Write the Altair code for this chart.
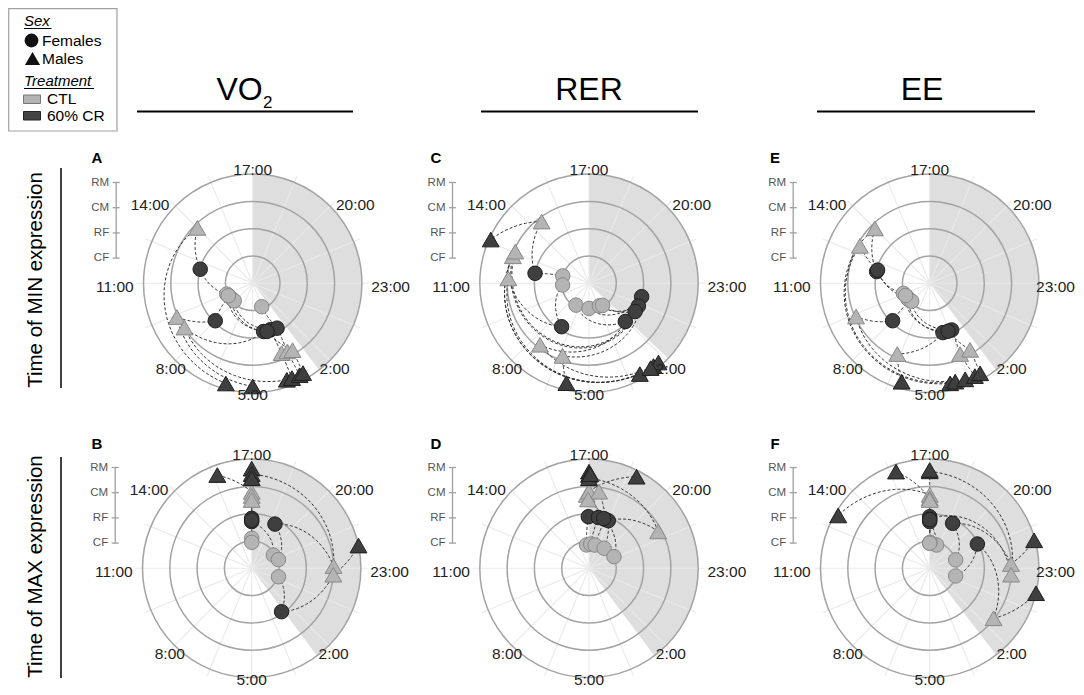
import altair as alt
import pandas as pd

FONT = "Liberation Sans"
U = 27.3  # pixels per ring unit

GROUPS = ["CF", "RF", "CM", "RM"]
SEX = {"CF": "F", "RF": "F", "CM": "M", "RM": "M"}
TREAT = {"CF": "CTL", "RF": "CR", "CM": "CTL", "RM": "CR"}
HOUR_LABELS = ["17:00", "20:00", "23:00", "2:00", "5:00", "8:00", "11:00", "14:00"]

# ---- data: clock time (h) and ring radius per group (CF, RF, CM, RM) per item ----
A_time = [[9.5, 9.0, 8.6, 8.1, 3.6, 9.2],
          [12.0, 8.0, 4.15, 3.6, 3.1, 3.9],
          [14.0, 9.4, 8.8, 3.5, 3.2, 2.95],
          [6.0, 5.0, 3.7, 3.5, 3.2, 3.05]]
A_rad = [[1.03, 0.98, 0.95, 0.93, 0.92, 1.0],
         [1.99, 1.94, 1.81, 1.82, 1.87, 1.84],
         [2.87, 3.04, 2.98, 2.77, 2.8, 2.85],
         [3.8, 3.78, 3.75, 3.76, 3.78, 3.77]]

B_time = [[17.0, 20.9, 21.8, 0.17, 17.0],
          [17.0, 17.0, 18.85, 2.7, 17.0],
          [17.0, 17.0, 22.9, 23.3, 17.0],
          [15.65, 17.0, 17.0, 22.2, 17.0]]
B_rad = [[1.1, 0.93, 1.03, 1.03, 0.95],
         [1.83, 1.71, 1.83, 1.93, 1.76],
         [2.8, 2.65, 3.0, 3.0, 2.5],
         [3.64, 3.65, 3.45, 4.0, 3.3]]

C_time = [[12.05, 10.75, 7.05, 5.0, 3.35, 2.9],
          [11.7, 7.15, 2.1, 23.95, 0.65, 1.1],
          [14.5, 11.23, 7.57, 6.33, 12.3, 12.55],
          [12.6, 3.05, 2.47, 5.85, 2.25, 2.6]]
C_rad = [[1.0, 0.97, 0.93, 0.92, 0.91, 0.95],
         [2.01, 1.88, 1.93, 1.99, 1.99, 1.98],
         [2.85, 2.96, 2.88, 2.83, 2.96, 2.94],
         [3.94, 3.81, 3.84, 3.75, 3.86, 3.84]]

D_time = [[16.6, 17.27, 17.97, 19.47, 21.33],
          [16.95, 17.7, 18.2, 18.47, 18.1],
          [16.88, 17.0, 17.5, 21.13, 16.95],
          [17.0, 18.83, 17.0, 17.0, 17.05]]
D_rad = [[0.86, 0.89, 0.88, 0.92, 1.01],
         [1.89, 1.89, 1.89, 1.88, 1.9],
         [2.69, 2.81, 2.83, 2.87, 2.52],
         [3.54, 3.78, 3.42, 3.3, 3.45]]

E_time = [[9.6, 9.0, 8.3, 8.6, 8.0, 9.2],
          [11.83, 11.95, 7.98, 4.0, 3.32, 3.6],
          [14.0, 12.88, 9.38, 6.64, 3.45, 2.92],
          [4.23, 4.03, 3.65, 6.06, 3.27, 3.05]]
E_rad = [[1.03, 0.97, 0.95, 0.98, 0.93, 0.99],
         [1.99, 1.97, 1.93, 1.87, 1.89, 1.88],
         [2.84, 2.9, 2.96, 2.85, 2.82, 2.85],
         [3.74, 3.72, 3.75, 3.75, 3.78, 3.78]]

F_time = [[17.0, 18.1, 21.8, 0.1, 17.05, 17.0],
          [17.0, 17.0, 18.8, 21.2, 17.0, 17.0],
          [17.0, 17.0, 22.8, 1.54, 23.3, 17.0],
          [13.0, 15.72, 22.0, 23.88, 17.0, 17.0]]
F_rad = [[0.92, 0.89, 1.0, 0.99, 0.95, 0.92],
         [1.89, 1.71, 1.85, 1.96, 1.8, 1.78],
         [2.69, 2.56, 2.98, 2.97, 2.99, 2.5],
         [3.87, 3.75, 3.96, 4.0, 3.55, 3.6]]

# end of shaded (dark phase) sector, clock hour, starting at 17:00
SHADE_END = {"A": 2.5, "B": 2.55, "C": 1.9, "D": 2.55, "E": 2.5, "F": 2.5}

# ---- layout (page pixel coordinates) ----
CENTER = {"A": (252.7, 283.3), "C": (589.0, 283.3), "E": (929.7, 283.3),
          "B": (251.7, 568.3), "D": (589.0, 568.3), "F": (929.7, 568.3)}
LETTER_POS = {"A": (97, 158), "C": (436, 158), "E": (775, 158),
              "B": (97, 444), "D": (436, 444), "F": (775, 444)}
LABEL_OFF = [(0, -4.15), (3.76, -2.87), (5.05, 0.12), (3.0, 3.14),
             (0, 4.1), (-3.0, 3.14), (-5.05, 0.12), (-3.76, -2.87)]

PANEL_DATA = {"A": (A_time, A_rad), "B": (B_time, B_rad), "C": (C_time, C_rad),
              "D": (D_time, D_rad), "E": (E_time, E_rad), "F": (F_time, F_rad)}

pts, segs, rings, spokes, shade, labs, ticks = [], [], [], [], [], [], []
for p, (tm, rd) in PANEL_DATA.items():
    cx, cy = CENTER[p]
    n = len(tm[0])
    for g, grp in enumerate(GROUPS):
        for i in range(n):
            pts.append(dict(panel=p, grp=grp, item=i, time=tm[g][i], rad=rd[g][i],
                            sex=SEX[grp], treat=TREAT[grp], cx=cx, cy=cy,
                            order=g * 10 + i))
    for i in range(n):
        for g in range(3):
            segs.append(dict(sid=f"{p}-{i}-{g}", t0=tm[g][i], r0=rd[g][i],
                             t1=tm[g + 1][i], r1=rd[g + 1][i], cx=cx, cy=cy))
    for k in range(1, 5):
        rings.append(dict(cx=cx, cy=cy, k=k))
    for s in range(16):
        spokes.append(dict(cx=cx, cy=cy, a=s * 22.5))
    shade.append(dict(cx=cx, cy=cy, te=SHADE_END[p]))
    for lab, (dx, dy) in zip(HOUR_LABELS, LABEL_OFF):
        labs.append(dict(cx=cx, cy=cy, lab=lab, dx=dx, dy=dy))
    for k, grp in enumerate(GROUPS, start=1):
        ticks.append(dict(cx=cx, cy=cy, k=k, lab=grp))

pts = pd.DataFrame(pts)
segs = pd.DataFrame(segs)
rings = pd.DataFrame(rings)
spokes = pd.DataFrame(spokes)
shade = pd.DataFrame(shade)
labs = pd.DataFrame(labs)
ticks = pd.DataFrame(ticks)

W, H = 1068, 679
xs = alt.Scale(domain=[8, 8 + W], range=[0, W], nice=False, zero=False)
ys = alt.Scale(domain=[8, 8 + H], range=[0, H], nice=False, zero=False)


def X(f):
    return alt.X(f, type="quantitative", scale=xs, axis=None)


def Y(f):
    return alt.Y(f, type="quantitative", scale=ys, axis=None)


def XD(v):
    return alt.XDatum(v, scale=xs, axis=None)


def YD(v):
    return alt.YDatum(v, scale=ys, axis=None)


ONE = alt.Data(values=[{"a": 1}])
layers = []

# legend box
layers.append(alt.Chart(ONE).mark_rect(fill="white", stroke="#a0a0a0", strokeWidth=1.2).encode(
    x=XD(8.7), x2=alt.X2Datum(117), y=YD(8.7), y2=alt.Y2Datum(131)))

# shaded sector
layers.append(alt.Chart(shade).transform_calculate(
    th0="0", th1="((datum.te - 17 + 24) % 24) / 24 * 2 * PI"
).mark_arc(fill="#dedede", radius=4 * U).encode(
    x=X("cx"), y=Y("cy"),
    theta=alt.Theta("th0:Q", scale=None), theta2=alt.Theta2("th1:Q")))

# spokes
layers.append(alt.Chart(spokes).transform_calculate(
    x2=f"datum.cx + {4.25 * U}*sin(datum.a*PI/180)",
    y2=f"datum.cy - {4.25 * U}*cos(datum.a*PI/180)"
).mark_rule(color="#e9e9e9", strokeWidth=1.1).encode(
    x=X("cx"), y=Y("cy"), x2="x2:Q", y2="y2:Q"))

# rings
layers.append(alt.Chart(rings).transform_calculate(
    sz=f"pow(2*{U}*datum.k, 2)"
).mark_point(shape="circle", filled=False, stroke="#a3a3a3", strokeWidth=1.5, opacity=1).encode(
    x=X("cx"), y=Y("cy"), size=alt.Size("sz:Q", scale=None)))

# dashed connectors (polar interpolation between consecutive groups)
layers.append(alt.Chart(segs).transform_calculate(
    steps="sequence(0, 1.0001, 0.04)"
).transform_flatten(["steps"], as_=["f"]).transform_calculate(
    d="((datum.t1 - datum.t0 + 36) % 24) - 12"
).transform_calculate(
    t="datum.t0 + datum.f*datum.d",
    r="datum.r0 + datum.f*(datum.r1 - datum.r0)"
).transform_calculate(
    ang="(datum.t - 17)/24*2*PI"
).transform_calculate(
    px=f"datum.cx + {U}*datum.r*sin(datum.ang)",
    py=f"datum.cy - {U}*datum.r*cos(datum.ang)"
).mark_line(color="#333333", strokeWidth=1, strokeDash=[3, 2]).encode(
    x=X("px"), y=Y("py"), detail="sid:N", order="f:Q"))

# points
layers.append(alt.Chart(pts).transform_calculate(
    ang="(datum.time - 17)/24*2*PI",
    sz="datum.sex == 'F' ? 210 : 285"
).transform_calculate(
    px=f"datum.cx + {U}*datum.rad*sin(datum.ang)",
    py=f"datum.cy - {U}*datum.rad*cos(datum.ang)"
).mark_point(filled=True, opacity=1, strokeWidth=1).encode(
    x=X("px"), y=Y("py"),
    shape=alt.Shape("sex:N", scale=alt.Scale(domain=["F", "M"], range=["circle", "triangle-up"]), legend=None),
    fill=alt.Fill("treat:N", scale=alt.Scale(domain=["CTL", "CR"], range=["#b4b4b4", "#3f3f3f"]), legend=None),
    stroke=alt.Stroke("treat:N", scale=alt.Scale(domain=["CTL", "CR"], range=["#888888", "#1e1e1e"]), legend=None),
    size=alt.Size("sz:Q", scale=None),
    order=alt.Order("order:Q")))

# hour labels (kept inside the page at the right edge)
layers.append(alt.Chart(labs).transform_calculate(
    lx=f"min(datum.cx + {U}*datum.dx, 1055.5)", ly=f"datum.cy + {U}*datum.dy"
).mark_text(font=FONT, fontSize=15.5, color="#222222", baseline="middle", align="center").encode(
    x=X("lx"), y=Y("ly"), text="lab:N"))

# group axis at left of each panel
layers.append(alt.Chart(shade).transform_calculate(
    ax="datum.cx - 136.5", y1="datum.cy - 100.8", y2="datum.cy - 25.1"
).mark_rule(color="#a0a0a0", strokeWidth=1.3).encode(x=X("ax"), y=Y("y1"), y2="y2:Q"))
layers.append(alt.Chart(ticks).transform_calculate(
    t1="datum.cx - 140", t2="datum.cx - 133", ty="datum.cy - 25.2*datum.k"
).mark_rule(color="#a0a0a0", strokeWidth=1.3).encode(x=X("t1"), x2="t2:Q", y=Y("ty")))
layers.append(alt.Chart(ticks).transform_calculate(
    lx="datum.cx - 143.5", ty="datum.cy - 25.2*datum.k"
).mark_text(font=FONT, fontSize=11.5, color="#555555", align="right", baseline="middle").encode(
    x=X("lx"), y=Y("ty"), text="lab:N"))


def txt(s, x, y, size=15.5, **kw):
    return alt.Chart(ONE).mark_text(text=s, font=FONT, fontSize=size, **kw).encode(x=XD(x), y=YD(y))


def hline(x1, x2, y, w=1.0, color="black"):
    return alt.Chart(ONE).mark_rule(color=color, strokeWidth=w).encode(x=XD(x1), x2=alt.X2Datum(x2), y=YD(y))


def vline(x, y1, y2, w=1.0, color="black"):
    return alt.Chart(ONE).mark_rule(color=color, strokeWidth=w).encode(x=XD(x), y=YD(y1), y2=alt.Y2Datum(y2))


# panel letters
for L, (lx, ly) in LETTER_POS.items():
    layers.append(txt(L, lx, ly, size=15, fontWeight="bold", align="center", baseline="middle", color="black"))

# column titles
layers.append(txt("VO", 239.5, 100, size=32, align="center", baseline="alphabetic", color="black"))
layers.append(txt("2", 263, 108, size=17, align="left", baseline="alphabetic", color="black"))
layers.append(txt("RER", 589, 100, size=32, align="center", baseline="alphabetic", color="black"))
layers.append(txt("EE", 922, 100, size=32, align="center", baseline="alphabetic", color="black"))
layers.append(hline(137, 353, 111.5, 2))
layers.append(hline(481, 698, 111.5, 2))
layers.append(hline(817, 1035, 111.5, 2))

# row titles
layers.append(txt("Time of MIN expression", 36, 280, size=20.5, angle=270, align="center",
                  baseline="middle", color="black"))
layers.append(txt("Time of MAX expression", 36, 566.5, size=20.5, angle=270, align="center",
                  baseline="middle", color="black"))
layers.append(vline(61, 168, 388, 1.5))
layers.append(vline(61, 457, 678, 1.5))

# legend content
layers.append(txt("Sex", 24, 26, size=15, fontStyle="italic", align="left", baseline="alphabetic", color="black"))
layers.append(hline(24, 51.5, 28.5, 1))
layers.append(alt.Chart(ONE).mark_point(shape="circle", filled=True, size=190, color="#111111", opacity=1).encode(
    x=XD(31.5), y=YD(40.5)))
layers.append(txt("Females", 42, 45.5, size=15.5, align="left", baseline="alphabetic", color="black"))
layers.append(alt.Chart(ONE).mark_point(shape="triangle-up", filled=True, size=230, color="#111111", opacity=1).encode(
    x=XD(32.5), y=YD(58.5)))
layers.append(txt("Males", 42, 64, size=15.5, align="left", baseline="alphabetic", color="black"))
layers.append(txt("Treatment", 24, 86, size=15, fontStyle="italic", align="left", baseline="alphabetic", color="black"))
layers.append(hline(24, 94, 88.5, 1))
layers.append(alt.Chart(ONE).mark_rect(fill="#b4b4b4", stroke="#777777", strokeWidth=1).encode(
    x=XD(23.5), x2=alt.X2Datum(40.5), y=YD(95), y2=alt.Y2Datum(103.5)))
layers.append(txt("CTL", 47, 104, size=15.5, align="left", baseline="alphabetic", color="black"))
layers.append(alt.Chart(ONE).mark_rect(fill="#444444", stroke="#222222", strokeWidth=1).encode(
    x=XD(23.5), x2=alt.X2Datum(40.5), y=YD(111.5), y2=alt.Y2Datum(120)))
layers.append(txt("60% CR", 47, 120.5, size=15.5, align="left", baseline="alphabetic", color="black"))

chart = alt.layer(*layers).properties(
    width=W, height=H, padding=0, autosize=alt.AutoSizeParams(type="none"),
    background="white"
).configure_view(stroke=None)

chart.save("out.html", embed_options={"renderer": "svg", "actions": False})
